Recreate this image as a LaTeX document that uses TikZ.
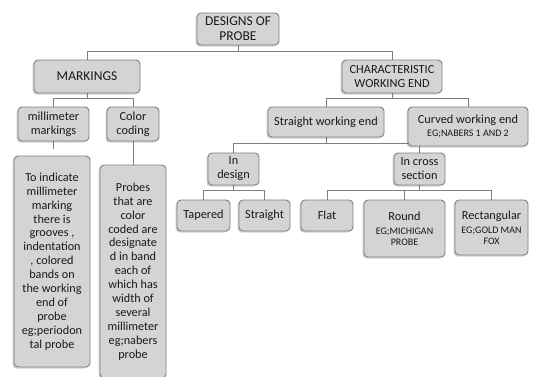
\documentclass[tikz,border=0pt]{standalone}
\usepackage{fontspec}
\setmainfont{Carlito}
\usetikzlibrary{shadows,calc}
\pgfdeclarelayer{bg}
\pgfsetlayers{bg,main}
\definecolor{boxfill}{HTML}{D4D4D4}
\definecolor{boxline}{HTML}{7F7F7F}
\definecolor{conn}{HTML}{808080}
\tikzset{
  box/.style={draw=boxline, fill=boxfill, rounded corners=4pt, line width=0.9pt,
    align=center, inner sep=1pt, text=black!90,
    drop shadow={shadow xshift=-1.5pt, shadow yshift=-1.5pt, opacity=0.18, fill=black}},
  link/.style={draw=conn, line width=0.9pt},
  big/.style={font=\fontsize{13.5}{15}\selectfont},
  mid/.style={font=\fontsize{12.3}{14}\selectfont},
  tall/.style={font=\fontsize{12.2}{13.9}\selectfont},
}
\newcommand{\smalleg}[1]{{\fontsize{10}{12}\selectfont #1}}
\begin{document}
\begin{tikzpicture}[x=1pt,y=-1pt]
\begin{pgfonlayer}{bg}
\fill[white] (0,0) rectangle (536,376);
\end{pgfonlayer}
\useasboundingbox (0,0) rectangle (536,376);
\node[box,big,minimum width=82pt,minimum height=32pt] (top) at (238,29) {DESIGNS OF\\PROBE};
\node[box,big,minimum width=106pt,minimum height=33pt] (mark) at (87,76.5) {MARKINGS};
\node[box,mid,minimum width=100pt,minimum height=33pt] (cwe) at (392,76.5) {CHARACTERISTIC\\WORKING END};
\node[box,mid,minimum width=71pt,minimum height=34pt] (mm) at (53.5,124) {millimeter\\markings};
\node[box,mid,minimum width=52pt,minimum height=34pt] (cc) at (133,124) {Color\\coding};
\node[box,mid,minimum width=116pt,minimum height=30pt] (swe) at (326,122) {Straight working end};
\node[box,mid,minimum width=120pt,minimum height=39pt] (curv) at (468,126.5) {Curved working end\\[-1pt]\smalleg{EG;NABERS 1 AND 2}};
\node[box,mid,minimum width=51pt,minimum height=32pt] (ind) at (233.5,169) {In\\design};
\node[box,mid,minimum width=51pt,minimum height=32pt] (ics) at (419.5,169) {In cross\\section};
\node[box,mid,minimum width=53pt,minimum height=31pt] (tap) at (203.5,215.5) {Tapered};
\node[box,mid,minimum width=51pt,minimum height=31pt] (str) at (264.5,215.5) {Straight};
\node[box,mid,minimum width=52pt,minimum height=31pt] (flat) at (327,215.5) {Flat};
\node[box,mid,minimum width=81pt,minimum height=57pt] (round) at (404.5,228.5) {Round\\[0pt]\smalleg{EG;MICHIGAN}\\[-3pt]\smalleg{PROBE}};
\node[box,mid,minimum width=73pt,minimum height=55pt] (rect) at (491.5,227.5) {Rectangular\\[0pt]\smalleg{EG;GOLD MAN}\\[-3pt]\smalleg{FOX}};
\node[box,tall,minimum width=76pt,minimum height=211pt] (tb1) at (52,261.5) {To indicate\\millimeter\\marking\\there is\\grooves ,\\indentation\\, colored\\bands on\\the working\\end of\\probe\\eg;periodon\\tal probe};
\node[box,tall,minimum width=66pt,minimum height=213pt] (tb2) at (133,271.5) {Probes\\that are\\color\\coded are\\designate\\d in band\\each of\\which has\\width of\\several\\millimeter\\eg;nabers\\probe};
\coordinate (bus1) at (0,51);
\coordinate (bus2) at (0,98);
\coordinate (bus3) at (0,143);
\coordinate (bus4) at (0,190);
\coordinate (stub) at ($(mm.south)+(0,8)$);
\begin{pgfonlayer}{bg}
\draw[link] (top.south) -- (top.south |- bus1);
\draw[link] (mark.north) |- (cwe.north |- bus1) -- (cwe.north);
\draw[link] (mark.south) -- (mark.south |- bus2);
\draw[link] (mm.north) |- (cc.north |- bus2) -- (cc.north);
\draw[link] (mm.south) -- (stub);
\draw[link] (cc.south) -- (tb2.north);
\draw[link] (cwe.south) -- (cwe.south |- bus2);
\draw[link] (swe.north) |- (curv.north |- bus2) -- (curv.north);
\draw[link] (swe.south) -- (swe.south |- bus3);
\draw[link] (ind.north) |- (ics.north |- bus3) -- (ics.north);
\draw[link] (ind.south) -- (ind.south |- bus4);
\draw[link] (tap.north) |- (str.north |- bus4) -- (str.north);
\draw[link] (ics.south) -- (ics.south |- bus4);
\draw[link] (flat.north) |- (rect.north |- bus4) -- (rect.north);
\draw[link] (round.north) -- (round.north |- bus4);
\end{pgfonlayer}
\end{tikzpicture}
\end{document}
